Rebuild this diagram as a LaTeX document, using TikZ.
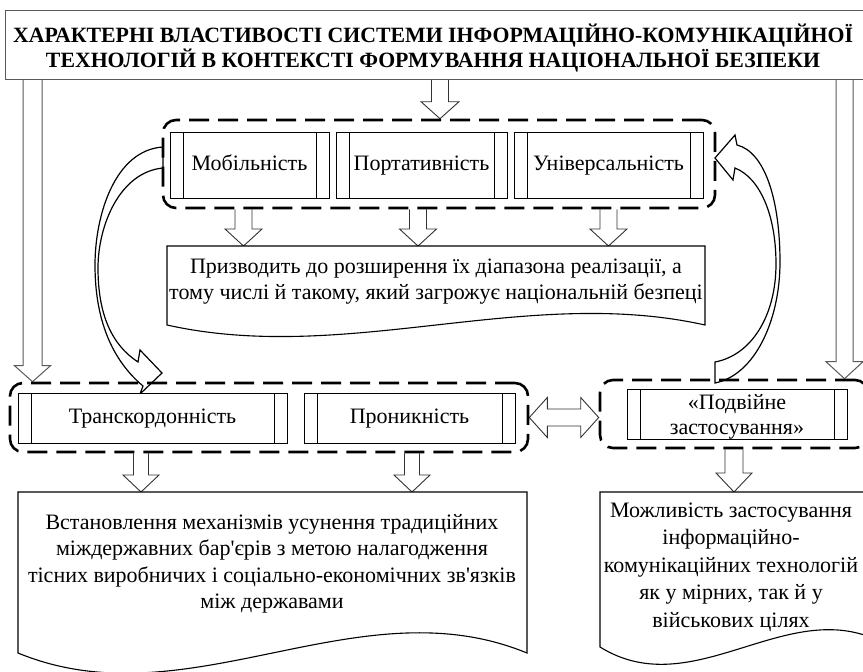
\documentclass[tikz,border=0pt]{standalone}
\usepackage{fontspec}
\setmainfont{LiberationSerif}[Extension=.ttf, UprightFont=*-Regular, BoldFont=*-Bold, ItalicFont=*-Italic, BoldItalicFont=*-BoldItalic]
\usetikzlibrary{calc,backgrounds}
\definecolor{edgegray}{HTML}{5A5A5A}
\newcommand\bodyfont{\fontsize{22}{26.5}\selectfont}
\newcommand\widefont{\fontsize{22}{27.5}\selectfont}
\newcommand\titlefont{\fontsize{21.8}{21.5}\selectfont\bfseries}
% hollow down arrow: style, top point, tip point, shaft half width, head half width, head length
\newcommand\hdarrow[6]{%
  \path[#1] let \p1=#2, \p2=#3 in
    (\x1-#4,\y1) -- (\x1-#4,\y2+#6) -- (\x1-#5,\y2+#6) -- (\x1,\y2)
    -- (\x1+#5,\y2+#6) -- (\x1+#4,\y2+#6) -- (\x1+#4,\y1);}
% document shape: x1,y1,x2,y2 (baseline of wave), wave control offset
\newcommand\docshape[5]{%
  \draw[docline] (#1,#2) -- (#3,#2) -- (#3,#4)
    .. controls ({#3-(#3-#1)/3},{#4-#5}) and ({#1+(#3-#1)/3},{#4+#5}) .. (#1,#4) -- cycle;}
\tikzset{
  procbox/.style={draw=black, line width=0.9pt, fill=white, inner sep=0pt,
    minimum height=#1, align=center, font=\bodyfont,
    path picture={\draw[line width=0.9pt]
      ([xshift=13pt]path picture bounding box.north west) -- ([xshift=13pt]path picture bounding box.south west)
      ([xshift=-13pt]path picture bounding box.north east) -- ([xshift=-13pt]path picture bounding box.south east);}},
  oneline/.style={text height=15pt, text depth=5pt},
  groupbox/.style={draw=black, line width=2.6pt, dash pattern=on 20pt off 9pt,
    rounded corners=13pt, inner sep=0pt},
  grayarrow/.style={draw=edgegray, line width=1pt, fill=white},
  blackarrow/.style={draw=black!80, line width=0.9pt, fill=white},
  curvearrow/.style={draw=black, line width=1.2pt, fill=white},
  docline/.style={draw=black, line width=1.1pt, fill=white},
  bodytext/.style={align=center, font=\bodyfont, inner sep=0pt},
}
\begin{document}
\begin{tikzpicture}[x=1pt,y=-1pt]
\useasboundingbox (0,0) rectangle (863,672);
\clip (0,0) rectangle (863,672);

% title
\node[draw=edgegray, line width=1pt, fill=white, minimum width=865pt, minimum height=69pt,
      inner sep=0pt] (title) at (437.5,44.5) {};
\node[align=center, font=\titlefont, inner sep=0pt] (titletext) at (433,48)
  {ХАРАКТЕРНІ ВЛАСТИВОСТІ СИСТЕМИ ІНФОРМАЦІЙНО-КОМУНІКАЦІЙНОЇ\\ТЕХНОЛОГІЙ В КОНТЕКСТІ ФОРМУВАННЯ НАЦІОНАЛЬНОЇ БЕЗПЕКИ};

% groups
\node[groupbox, minimum width=552pt, minimum height=88pt] (g1) at (439,164) {};
\node[groupbox, minimum width=518pt, minimum height=69pt] (g2) at (269,417.5) {};
\node[groupbox, minimum width=268pt, minimum height=68pt] (g3) at (734,414) {};

% process boxes
\node[procbox=66pt, oneline, minimum width=159pt] (mob) at (249.5,165) {Мобільність};
\node[procbox=66pt, oneline, minimum width=171pt] (port) at (421.5,165) {Портативність};
\node[procbox=66pt, oneline, minimum width=189pt] (univ) at (608.5,165) {Універсальність};
\node[procbox=50pt, oneline, minimum width=269pt] (trans) at (152.5,418) {Транскордонність};
\node[procbox=50pt, oneline, minimum width=211pt] (pron) at (409.5,418) {Проникність};
\node[procbox=50pt, minimum width=220pt] (dual) at (737,414) {};
\node[bodytext, font=\fontsize{22}{25}\selectfont] (dualtext) at (737,417) {«Подвійне\\застосування»};

% document shapes
\docshape{167}{246}{705}{325}{40}
\coordinate (d1top) at (436,246);
\node[bodytext] (d1) at (436,281.5)
  {Призводить до розширення їх діапазона реалізації, а\\тому числі й такому, який загрожує національній безпеці};
\docshape{18}{492}{527}{653}{70}
\coordinate (d2top) at (272,492);
\node[bodytext] (d2) at (272,564)
  {Встановлення механізмів усунення традиційних\\міждержавних бар\textquotesingle єрів з метою налагодження\\тісних виробничих і соціально-економічних зв\textquotesingle язків\\між державами};
\docshape{600}{492}{890}{647}{60}
\coordinate (d3top) at (734,492);
\node[bodytext, font=\widefont] (d3) at (731,567)
  {Можливість застосування\\інформаційно-\\комунікаційних технологій\\як у мірних, так й у\\військових цілях};

\begin{scope}[on background layer]
% long arrows from title
\hdarrow{grayarrow}{(32.5,0 |- title.south)}{(32.5,0 |- g2.north)}{9.5pt}{18pt}{16pt}
\hdarrow{grayarrow}{(844.5,0 |- title.south)}{(844.5,0 |- g3.north)}{8.5pt}{18.5pt}{17pt}
% title to top group
\hdarrow{blackarrow}{(440,0 |- title.south)}{(440,0 |- g1.north)}{8.5pt}{19pt}{17pt}
% top group to d1
\hdarrow{blackarrow}{(243.5,0 |- g1.south)}{(243.5,0 |- d1top)}{8.5pt}{18.5pt}{17pt}
\hdarrow{blackarrow}{(418,0 |- g1.south)}{(418,0 |- d1top)}{8.5pt}{18.5pt}{17pt}
\hdarrow{blackarrow}{(608.5,0 |- g1.south)}{(608.5,0 |- d1top)}{8.5pt}{18.5pt}{17pt}
% group 2 to d2
\hdarrow{blackarrow}{(141,0 |- g2.south)}{(141,0 |- d2top)}{7.5pt}{18pt}{17pt}
\hdarrow{blackarrow}{(412,0 |- g2.south)}{(412,0 |- d2top)}{7.5pt}{18pt}{17pt}
% group 3 to d3
\hdarrow{blackarrow}{(734,0 |- g3.south)}{(734,0 |- d3top)}{9pt}{18pt}{19pt}
% double arrow between g2 and g3
\path[blackarrow] let \p1=(g2.east), \p2=(g3.west) in
  (\x1,\y1) -- (\x1+18pt,\y1+20pt) -- (\x1+18pt,\y1+8.5pt) -- (\x2-18pt,\y1+8.5pt)
  -- (\x2-18pt,\y1+20pt) -- (\x2,\y1) -- (\x2-18pt,\y1-20pt) -- (\x2-18pt,\y1-8.5pt)
  -- (\x1+18pt,\y1-8.5pt) -- (\x1+18pt,\y1-20pt) -- cycle;
% left curved arrow (Mobilnist -> Transkordonnist group)
\path[curvearrow] (163,147) .. controls (115,150) and (95,215) .. (95,265)
  .. controls (95,320) and (112,360) .. (143,386) -- (140,394) -- (162,373) -- (140,350) -- (138,362)
  .. controls (112,345) and (98,315) .. (98,268) .. controls (98,225) and (120,172) .. (163,168) -- cycle;
% right curved arrow (dual group -> Universalnist group)
\path[curvearrow] (715,383) .. controls (755,375) and (780,320) .. (780,262)
  .. controls (780,200) and (765,152) .. (737,145) -- (735,135) -- (715,158) -- (733,180) -- (735,168)
  .. controls (760,178) and (776,215) .. (776,264) .. controls (776,315) and (752,355) .. (715,362) -- cycle;
\end{scope}
\end{tikzpicture}
\end{document}
